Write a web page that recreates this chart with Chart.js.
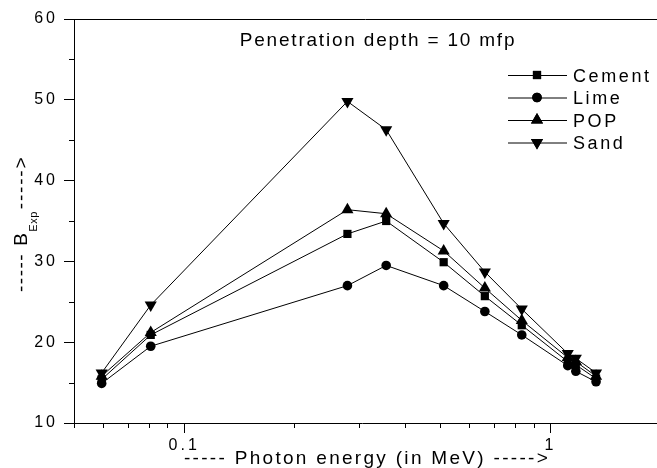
<!DOCTYPE html>
<html>
<head>
<meta charset="utf-8">
<script src="https://cdn.jsdelivr.net/npm/chart.js@4/dist/chart.umd.min.js"></script>
<style>
  html, body { margin: 0; padding: 0; background: #fff; }
  canvas { display: block; }
</style>
</head>
<body>
<canvas id="c" width="657" height="468"></canvas>
<script>
// photon energies (MeV) and exposure buildup factors at 10 mfp
const energies = [0.0595, 0.081, 0.279, 0.356, 0.511, 0.662, 0.835, 1.115, 1.173, 1.332];
const cement = [15.4, 20.9, 33.4, 35.0, 29.9, 25.7, 22.1, 17.6, 17.2, 15.5];
const lime   = [14.9, 19.5, 27.0, 29.5, 27.0, 23.8, 20.9, 17.1, 16.4, 15.1];
const pop    = [15.8, 21.2, 36.4, 35.9, 31.3, 26.7, 22.7, 18.1, 17.6, 15.8];
const sand   = [16.2, 24.6, 49.8, 46.3, 34.7, 28.7, 24.1, 18.6, 18.0, 16.2];

const seriesNames = ['Cement', 'Lime', 'POP', 'Sand'];
const xMajor = [0.1, 1];
const xMinor = [0.05, 0.06, 0.07, 0.08, 0.09, 0.2, 0.3, 0.4, 0.5, 0.6, 0.7, 0.8, 0.9];
const yMinor = [15, 25, 35, 45, 55];

const FONT = '"Liberation Sans", Arial, sans-serif';

const styles = [
  { pointStyle: 'rect', pointRadius: 5.8, rotation: 0 },
  { pointStyle: 'circle', pointRadius: 4.8, rotation: 0 },
  { pointStyle: 'triangle', pointRadius: 7, rotation: 0 },
  { pointStyle: 'triangle', pointRadius: 7, rotation: 180 },
];

const datasets = [cement, lime, pop, sand].map((vals, i) => ({
  label: seriesNames[i],
  data: vals.map((v, j) => ({ x: energies[j], y: v })),
  borderColor: '#000',
  backgroundColor: '#000',
  borderWidth: 1,
  pointStyle: styles[i].pointStyle,
  pointRadius: styles[i].pointRadius,
  pointRotation: styles[i].rotation,
  pointBorderWidth: 0,
  pointBackgroundColor: '#000',
  tension: 0,
}));

function spaced(ctx, px) { ctx.letterSpacing = px + 'px'; }

const decorations = {
  id: 'decorations',
  beforeUpdate(chart) { spaced(chart.ctx, 3); },
  beforeDraw(chart) {
    const ctx = chart.ctx;
    ctx.save();
    ctx.fillStyle = '#fff';
    ctx.fillRect(0, 0, chart.width, chart.height);
    ctx.restore();
    spaced(ctx, 3);
  },
  afterDraw(chart) {
    const ctx = chart.ctx;
    const { left, right, top, bottom } = chart.chartArea;
    const xs = chart.scales.x, ys = chart.scales.y;
    ctx.save();
    ctx.strokeStyle = '#000';
    ctx.lineWidth = 1;
    ctx.beginPath();
    // frame: top line and the axis line run on to the page edge
    ctx.moveTo(left, top + 0.5);
    ctx.lineTo(chart.width, top + 0.5);
    ctx.moveTo(right - 1, bottom + 0.5);
    ctx.lineTo(chart.width, bottom + 0.5);
    // minor ticks
    xMinor.forEach(v => {
      const px = Math.round(xs.getPixelForValue(v)) + 0.5;
      ctx.moveTo(px, bottom);
      ctx.lineTo(px, bottom + 5);
    });
    yMinor.forEach(v => {
      const py = Math.round(ys.getPixelForValue(v)) + 0.5;
      ctx.moveTo(left - 5, py);
      ctx.lineTo(left, py);
    });
    ctx.stroke();

    ctx.fillStyle = '#000';
    ctx.textBaseline = 'alphabetic';

    // annotation
    ctx.font = '19px ' + FONT;
    spaced(ctx, 1.8);
    ctx.textAlign = 'center';
    ctx.fillText('Penetration depth = 10 mfp', 378, 46);

    // x-axis title
    spaced(ctx, 2.3);
    ctx.fillText('----- Photon energy (in MeV) ----->', 367, 464);

    // y-axis title with subscript
    ctx.save();
    ctx.translate(27, 292);
    ctx.rotate(-Math.PI / 2);
    ctx.textAlign = 'left';
    ctx.font = '19px ' + FONT;
    spaced(ctx, 1.5);
    let x = 0;
    ctx.fillText('-----', x, -0.5);
    x += ctx.measureText('-----').width + 7;
    ctx.fillText('B', x, 0);
    x += ctx.measureText('B').width;
    ctx.font = '11px ' + FONT;
    spaced(ctx, 0.5);
    ctx.fillText('Exp', x, 10);
    x += ctx.measureText('Exp').width + 2;
    ctx.font = '19px ' + FONT;
    spaced(ctx, 1.8);
    ctx.fillText('----->', x, -0.5);
    ctx.restore();

    // legend
    ctx.font = '18px ' + FONT;
    spaced(ctx, 2.6);
    ctx.textAlign = 'left';
    const rowY = [75, 97.5, 120, 142.5];
    chart.data.datasets.forEach((ds, i) => {
      const y = rowY[i];
      ctx.beginPath();
      ctx.moveTo(508, y + 0.5);
      ctx.lineTo(567, y + 0.5);
      ctx.stroke();
      Chart.helpers.drawPoint(ctx, {
        pointStyle: ds.pointStyle,
        radius: ds.pointRadius,
        rotation: ds.pointRotation,
        borderWidth: 0,
      }, 537, y);
      ctx.fillStyle = '#000';
      ctx.fill();
      ctx.fillText(ds.label, 573, y + 6.5);
    });
    ctx.restore();
  },
};

new Chart(document.getElementById('c'), {
  type: 'line',
  data: { datasets },
  plugins: [decorations],
  options: {
    responsive: false,
    animation: false,
    layout: { padding: { left: 0, right: 0, top: 19, bottom: 0 } },
    plugins: { legend: { display: false }, tooltip: { enabled: false } },
    elements: { line: { borderWidth: 1 } },
    scales: {
      x: {
        type: 'logarithmic',
        min: 0.05,
        max: 1.87,
        afterBuildTicks: (s) => { s.ticks = xMajor.map(v => ({ value: v })); },
        afterFit: (s) => { s.height = 45; s.paddingLeft = 0; s.paddingRight = 0; },
        ticks: {
          color: '#000',
          font: { family: FONT, size: 16 },
          padding: 3,
          maxRotation: 0,
          autoSkip: false,
          callback: (v) => (v === 0.1 ? '0.1' : v === 1 ? '1' : ''),
        },
        grid: { drawOnChartArea: false, drawTicks: true, tickLength: 10, color: '#000', lineWidth: 1 },
        border: { display: true, color: '#000', width: 1 },
      },
      y: {
        min: 10,
        max: 60,
        afterFit: (s) => { s.width = 74; s.paddingTop = 0; s.paddingBottom = 0; },
        ticks: {
          stepSize: 10,
          color: '#000',
          font: { family: FONT, size: 16 },
          padding: 6,
        },
        grid: { drawOnChartArea: false, drawTicks: true, tickLength: 10, color: '#000', lineWidth: 1 },
        border: { display: true, color: '#000', width: 1 },
      },
    },
  },
});
</script>
</body>
</html>
